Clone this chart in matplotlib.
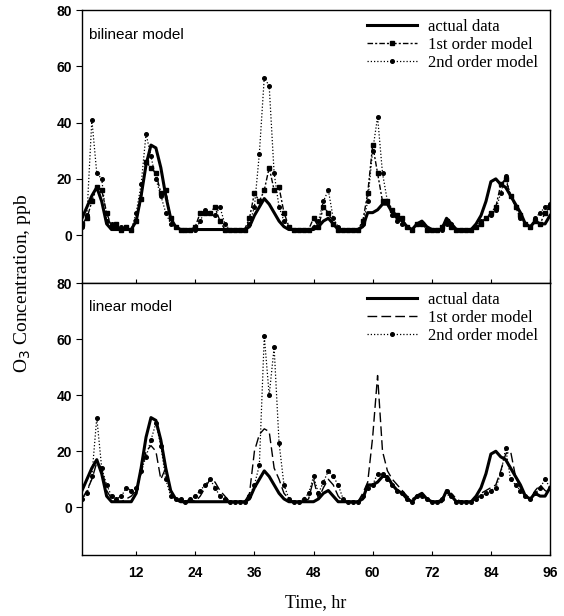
import matplotlib
matplotlib.use("Agg")
import matplotlib.pyplot as plt
import numpy as np

hours = list(range(1, 97))

actual = [6, 10, 14, 17, 12, 4, 2, 2, 2, 2,
          2, 5, 14, 25, 32, 31, 24, 14, 6, 3,
          2, 2, 2, 2, 2, 2, 2, 2, 2, 2,
          2, 2, 2, 2, 3, 7, 10, 13, 11, 8,
          5, 3, 2, 2, 2, 2, 2, 2, 3, 5,
          6, 4, 2, 2, 2, 2, 2, 3, 8, 8,
          9, 11, 11, 8, 6, 5, 3, 2, 4, 5,
          3, 2, 2, 2, 6, 4, 2, 2, 2, 2,
          4, 7, 12, 19, 20, 18, 17, 14, 11, 8,
          4, 3, 5, 4, 4, 7]

bilinear_1st = [4, 6, 12, 17, 16, 8, 3, 4, 2, 3,
                2, 5, 13, 26, 24, 22, 15, 16, 6, 3,
                2, 2, 2, 3, 8, 8, 8, 10, 5, 2,
                2, 2, 2, 2, 6, 15, 12, 16, 24, 16,
                17, 8, 3, 2, 2, 2, 2, 6, 3, 10,
                8, 4, 2, 2, 2, 2, 2, 5, 15, 32,
                22, 12, 12, 9, 7, 6, 3, 2, 4, 4,
                2, 2, 2, 3, 5, 3, 2, 2, 2, 2,
                3, 4, 6, 8, 10, 18, 20, 14, 10, 7,
                4, 3, 5, 4, 8, 10]

bilinear_2nd = [3, 7, 41, 22, 20, 5, 4, 3, 3, 3,
                2, 8, 18, 36, 28, 20, 14, 8, 4, 3,
                2, 2, 2, 2, 5, 9, 8, 7, 10, 4,
                2, 2, 2, 2, 4, 10, 29, 56, 53, 22,
                10, 5, 3, 2, 2, 2, 2, 3, 5, 12,
                16, 6, 3, 2, 2, 2, 2, 4, 12, 30,
                42, 22, 12, 7, 5, 4, 3, 2, 4, 4,
                2, 2, 2, 2, 4, 4, 2, 2, 2, 2,
                3, 5, 6, 7, 9, 15, 21, 14, 10, 6,
                4, 3, 6, 8, 10, 11]

linear_1st = [3, 6, 10, 16, 14, 6, 3, 2, 2, 3,
              4, 6, 12, 20, 22, 20, 10, 14, 6, 3,
              2, 2, 3, 2, 4, 7, 10, 9, 6, 4,
              2, 2, 2, 2, 5, 20, 26, 28, 27, 14,
              10, 5, 3, 2, 2, 2, 3, 10, 3, 7,
              10, 8, 4, 2, 2, 2, 2, 5, 9, 25,
              47, 20, 13, 10, 8, 6, 4, 3, 4, 5,
              3, 2, 2, 3, 4, 5, 3, 2, 2, 2,
              3, 5, 6, 7, 8, 13, 19, 20, 11, 7,
              4, 3, 6, 8, 6, 5]

linear_2nd = [3, 5, 11, 32, 14, 8, 4, 3, 4, 7,
              6, 7, 13, 18, 24, 30, 22, 10, 4, 3,
              3, 2, 3, 4, 6, 8, 10, 7, 4, 3,
              2, 2, 2, 2, 4, 8, 15, 61, 40, 57,
              23, 8, 3, 2, 2, 3, 5, 11, 5, 9,
              13, 11, 8, 3, 2, 2, 2, 4, 7, 8,
              12, 12, 10, 8, 6, 5, 3, 2, 4, 4,
              3, 2, 2, 3, 6, 4, 2, 2, 2, 2,
              3, 4, 5, 6, 7, 12, 21, 10, 8, 6,
              4, 3, 5, 7, 10, 7]

panel_labels = ["bilinear model", "linear model"]
legend_labels = ["actual data", "1st order model", "2nd order model"]
x_ticks = [12, 24, 36, 48, 60, 72, 84, 96]
y_ticks = [0, 20, 40, 60, 80]

serif = ["Liberation Serif", "DejaVu Serif"]
sans = ["Liberation Sans", "DejaVu Sans"]

fig = plt.figure(figsize=(5.64, 6.16), dpi=100)
L, W = 82 / 564, (550 - 82) / 564
ax_top = fig.add_axes([L, 1 - 283 / 616, W, (283 - 10) / 616])
ax_bot = fig.add_axes([L, 1 - 555 / 616, W, (555 - 283) / 616])

panels = [
    (ax_top, bilinear_1st, bilinear_2nd, (0, (4, 1.5, 1.5, 1.5))),
    (ax_bot, linear_1st, linear_2nd, (0, (7, 3))),
]

for i, (ax, m1, m2, dash) in enumerate(panels):
    ax.plot(hours, actual, color="black", lw=2.2, solid_joinstyle="round",
            label=legend_labels[0], zorder=3)
    ax.plot(hours, m1, color="black", lw=1.0, linestyle=dash,
            marker="s" if i == 0 else None, markersize=2.2,
            label=legend_labels[1], zorder=2)
    ax.plot(hours, m2, color="black", lw=0.9, linestyle=(0, (1, 1.6)),
            marker="o", markersize=2.6, label=legend_labels[2], zorder=2)
    ax.set_xlim(1, 96)
    ax.set_ylim(-17, 80)
    ax.set_yticks(y_ticks)
    ax.set_xticks(x_ticks)
    ax.tick_params(axis="y", direction="out", length=4, width=0.8, pad=3)
    ax.tick_params(axis="x", direction="in", length=3, width=0.8, pad=8)
    for lab in ax.get_yticklabels() + ax.get_xticklabels():
        lab.set_family(sans)
        lab.set_fontweight("bold")
        lab.set_fontsize(10)
    for sp in ax.spines.values():
        sp.set_linewidth(1.0)
    ax.text(0.015, 0.91, panel_labels[i], transform=ax.transAxes,
            fontsize=11, family=sans, ha="left", va="center")
    ax.legend(loc="upper right", bbox_to_anchor=(1.0, 1.01),
              frameon=False, handlelength=3.0, handletextpad=0.7,
              labelspacing=0.12, borderaxespad=0.3,
              prop={"family": serif, "size": 12})

ax_top.tick_params(axis="x", labelbottom=False)

ax_bot.set_xlabel("Time, hr", family=serif, fontsize=13, labelpad=10)
fig.text(0.040, 1 - 283 / 616, "O$_3$ Concentration, ppb", rotation=90,
         family=serif, fontsize=14, ha="center", va="center")

fig.savefig("out.png", dpi=100)
